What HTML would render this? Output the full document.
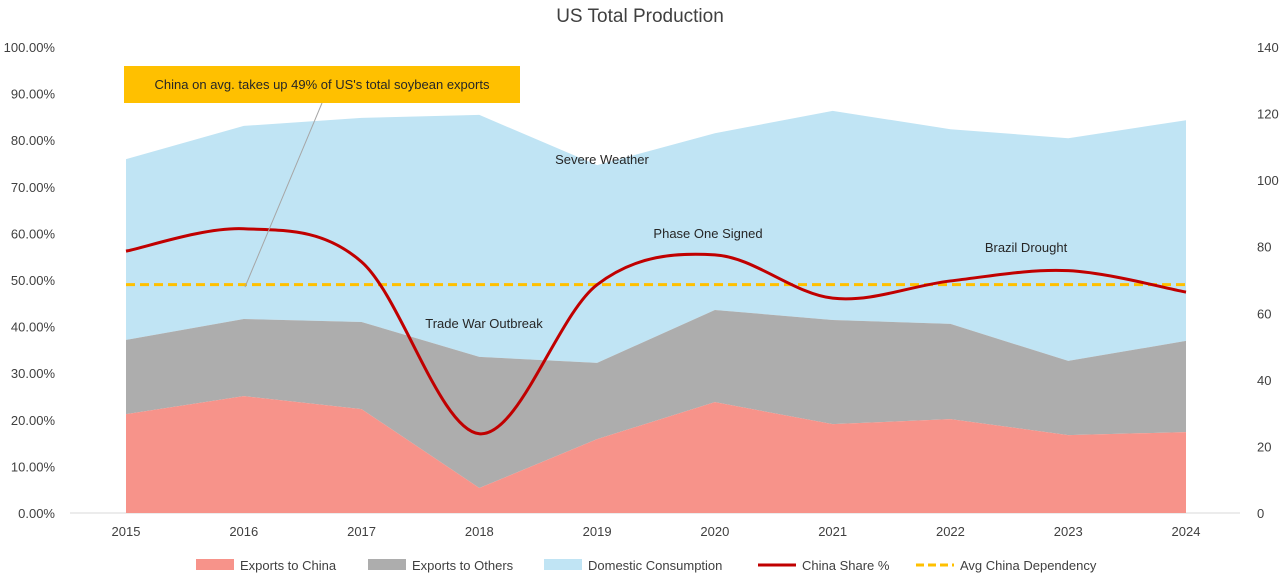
<!DOCTYPE html>
<html><head><meta charset="utf-8">
<style>
html,body{margin:0;padding:0;background:#fff;}
svg{display:block;font-family:"Liberation Sans",sans-serif;}
</style></head>
<body>
<svg id="chart" width="1280" height="587" viewBox="0 0 1280 587">
<text x="640" y="22" text-anchor="middle" font-size="19" fill="#404040">US Total Production</text>
<g id="axes"></g>
<g id="areas"></g>
<g id="lines"></g>
<g id="annot">
<line x1="322" y1="103" x2="245" y2="287" stroke="#a6a6a6" stroke-width="1"/>
<rect x="124" y="66" width="396" height="37" fill="#ffc000"/>
<text x="322" y="89" text-anchor="middle" font-size="13" fill="#262626">China on avg. takes up 49% of US's total soybean  exports</text>
<text x="602" y="164" text-anchor="middle" font-size="13" fill="#262626">Severe Weather</text>
<text x="708" y="238" text-anchor="middle" font-size="13" fill="#262626">Phase One Signed</text>
<text x="1026" y="252" text-anchor="middle" font-size="13" fill="#262626">Brazil Drought</text>
<text x="484" y="328" text-anchor="middle" font-size="13" fill="#262626">Trade War Outbreak</text>
</g>
<g id="legend"></g>
</svg>
<script>
const years = ['2015','2016','2017','2018','2019','2020','2021','2022','2023','2024'];
const exportsChina = [29.7,35.1,31.2,7.5,22.2,33.3,26.7,28.2,23.4,24.3];
const exportsOthers = [22.3,23.2,26.2,39.4,22.9,27.7,31.3,28.6,22.3,27.4];
const domestic = [54.3,58.0,61.3,72.7,59.4,53.1,62.8,58.5,66.9,66.3];
const chinaShare = [56.2,61.0,53.9,17.0,49.0,55.4,46.1,49.8,52.0,47.4];
const avgShare = 49;
const leftTicks = [0,10,20,30,40,50,60,70,80,90,100];
const rightTicks = [0,20,40,60,80,100,120,140];

const NS='http://www.w3.org/2000/svg';
const X0=126,X1=1186,Y0=513,Y1=47;
const xs=i=>X0+(X1-X0)*i/(years.length-1);
const yL=v=>Y0-(Y0-Y1)*v/100;
const yR=v=>Y0-(Y0-Y1)*v/140;
function mk(tag,attrs,parent){const e=document.createElementNS(NS,tag);for(const k in attrs)e.setAttribute(k,attrs[k]);parent.appendChild(e);return e;}
const axes=document.getElementById('axes'),areas=document.getElementById('areas'),lines=document.getElementById('lines'),legend=document.getElementById('legend');

leftTicks.forEach(t=>{const e=mk('text',{x:55,y:yL(t)+5,'text-anchor':'end','font-size':13,fill:'#404040'},axes);e.textContent=t.toFixed(2)+'%';

});
rightTicks.forEach(t=>{const e=mk('text',{x:1257,y:yR(t)+5,'font-size':13,fill:'#404040'},axes);e.textContent=t;

});
years.forEach((y,i)=>{const e=mk('text',{x:xs(i),y:536,'text-anchor':'middle','font-size':13,fill:'#404040'},axes);e.textContent=y;

});

const c1=exportsChina, c2=exportsChina.map((v,i)=>v+exportsOthers[i]), c3=c2.map((v,i)=>v+domestic[i]);
function band(lo,hi,fill,name){let d='M'+xs(0)+','+yR(hi[0]);for(let i=1;i<hi.length;i++)d+='L'+xs(i)+','+yR(hi[i]);for(let i=lo.length-1;i>=0;i--)d+='L'+xs(i)+','+yR(lo[i]);d+='Z';
const p=mk('path',{d:d,fill:fill},areas);

}
band(c2,c3,'#c0e4f4','area-domestic-consumption');
band(c1,c2,'#adadad','area-exports-others');
band(years.map(()=>0),c1,'#f7938a','area-exports-china');
mk('line',{x1:70,y1:Y0,x2:1240,y2:Y0,stroke:'#d9d9d9'},axes);

const avg=mk('line',{x1:xs(0),y1:yL(avgShare),x2:xs(years.length-1),y2:yL(avgShare),stroke:'#ffc000','stroke-width':3,'stroke-dasharray':'9,5'},lines);


const pts=chinaShare.map((v,i)=>[xs(i),yL(v)]);
let d='M'+pts[0][0]+','+pts[0][1];
for(let i=0;i<pts.length-1;i++){const p0=pts[Math.max(0,i-1)],p1=pts[i],p2=pts[i+1],p3=pts[Math.min(pts.length-1,i+2)];const t=1/6;
d+='C'+(p1[0]+(p2[0]-p0[0])*t)+','+(p1[1]+(p2[1]-p0[1])*t)+' '+(p2[0]-(p3[0]-p1[0])*t)+','+(p2[1]-(p3[1]-p1[1])*t)+' '+p2[0]+','+p2[1];}
const sl=mk('path',{d:d,fill:'none',stroke:'#c00000','stroke-width':3},lines);



const leg=[['Exports to China','rect','#f7938a',196],['Exports to Others','rect','#adadad',368],['Domestic Consumption','rect','#c0e4f4',544],['China Share %','line','#c00000',758],['Avg China Dependency','dash','#ffc000',916]];
leg.forEach(l=>{const g=mk('g',{},legend);


if(l[1]==='rect')mk('rect',{x:l[3],y:559,width:38,height:11,fill:l[2]},g);
else mk('line',{x1:l[3],y1:565,x2:l[3]+38,y2:565,stroke:l[2],'stroke-width':3,'stroke-dasharray':l[1]==='dash'?'8,4':'none'},g);
const t=mk('text',{x:l[3]+44,y:570,'font-size':13,fill:'#404040'},g);t.textContent=l[0];});
</script>
</body></html>
